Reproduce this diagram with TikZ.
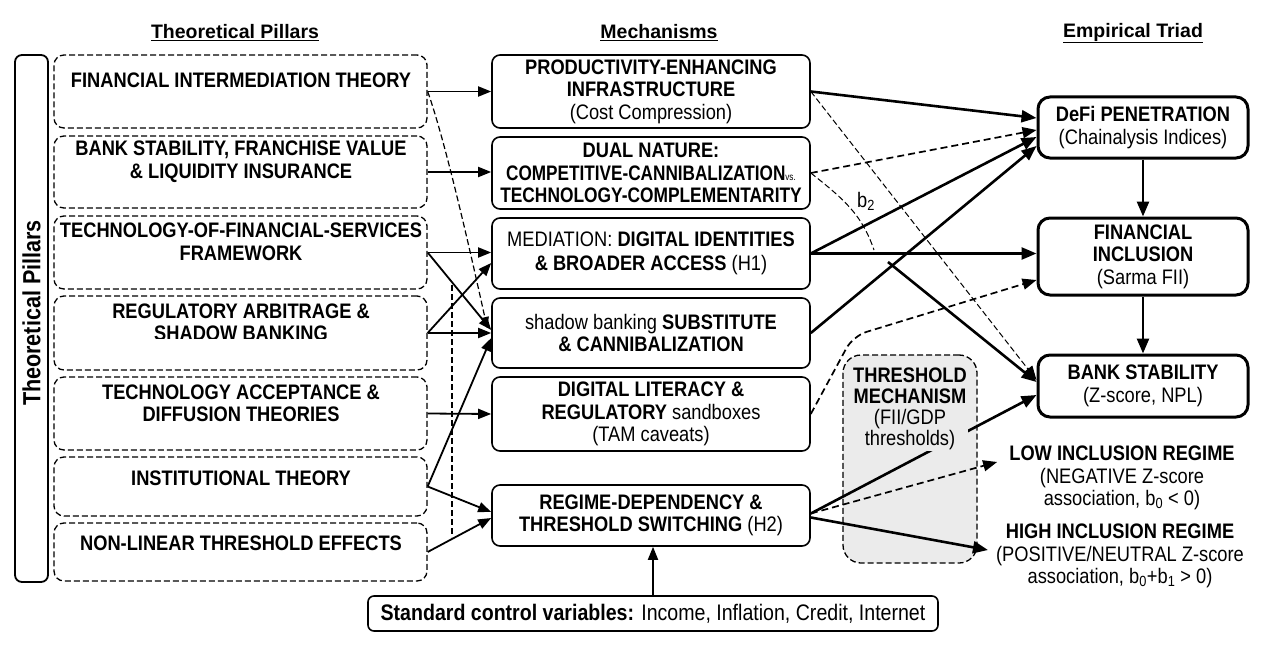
\documentclass[tikz,border=0pt]{standalone}
\usepackage{fontspec}
\setmainfont{Liberation Sans}
\newfontfamily\nar{Liberation Sans}[FakeStretch=0.87]
\usetikzlibrary{arrows.meta,calc}
\newcommand\boxfont{\nar\fontsize{21}{22.5}\selectfont}
\newcommand\titlefont{\fontsize{19.5}{22}\selectfont\bfseries}
\begin{document}
\begin{tikzpicture}[x=1pt,y=-1pt,
  every node/.style={font=\boxfont, inner sep=0pt},
  lbox/.style={draw, dash pattern=on 6pt off 3pt, line width=1.3pt, rounded corners=10pt, minimum width=373pt},
  mbox/.style={draw, line width=1.6pt, rounded corners=8pt, minimum width=318pt, align=center},
  rbox/.style={draw, line width=3pt, rounded corners=12pt, minimum width=210pt, align=center},
  ltxt/.style={align=center},
  la/.style={line width=1.8pt, -{Triangle[length=13pt,width=10pt]}},
  ra/.style={line width=2.6pt, -{Triangle[length=15pt,width=12pt]}},
  rad/.style={line width=1.7pt, dash pattern=on 7pt off 4pt, -{Triangle[length=14pt,width=11pt]}},
  rthin/.style={line width=1pt, dash pattern=on 6pt off 3pt, -{Triangle[length=14pt,width=11pt]}},
  ttl/.style={font=\titlefont},
]
\useasboundingbox (0,0) rectangle (1266,650);

% titles
\node[ttl] (t1) at (235,33) {\underline{Theoretical Pillars}};
\node[ttl] (t2) at (659,33) {\underline{Mechanisms}};
\node[ttl] (t3) at (1133,33) {\underline{Empirical Triad}};

% left bar
\node[draw, line width=1.8pt, rounded corners=7pt, minimum width=33pt, minimum height=527pt] (bar) at (31.5,318.5) {};
\node[rotate=90, font=\nar\fontsize{24.8}{26}\selectfont\bfseries] (bart) at (31.5,313) {Theoretical Pillars};

% left boxes
\node[lbox, minimum height=73pt] (L1) at (240.5,91.5) {};
\node[lbox, minimum height=72pt] (L2) at (240.5,172) {};
\node[lbox, minimum height=73pt] (L3) at (240.5,252.5) {};
\node[lbox, minimum height=74pt] (L4) at (240.5,333) {};
\node[lbox, minimum height=73pt] (L5) at (240.5,413.5) {};
\node[lbox, minimum height=59pt] (L6) at (240.5,486.5) {};
\node[lbox, minimum height=58pt] (L7) at (240.5,552) {};

\node[ltxt] (L1t) at (241,80) {\bfseries FINANCIAL INTERMEDIATION THEORY};
\node[ltxt] (L2t) at (241,161.5) {\bfseries BANK STABILITY, FRANCHISE VALUE\\\bfseries \& LIQUIDITY INSURANCE};
\node[ltxt] (L3t) at (241,242) {\bfseries TECHNOLOGY-OF-FINANCIAL-SERVICES\\\bfseries FRAMEWORK};
\begin{scope}
\clip (54,296) rectangle (427,338.5);
\node[ltxt] (L4t) at (241,322.5) {\bfseries REGULATORY ARBITRAGE \&\\\bfseries SHADOW BANKING};
\end{scope}
\node[ltxt] (L5t) at (241,403.5) {\bfseries TECHNOLOGY ACCEPTANCE \&\\\bfseries DIFFUSION THEORIES};
\node[ltxt] (L6t) at (241,478) {\bfseries INSTITUTIONAL THEORY};
\node[ltxt] (L7t) at (241,543) {\bfseries NON-LINEAR THRESHOLD EFFECTS};

% middle boxes
\node[mbox, minimum height=73pt] (M1) at (651,91.5) {\textbf{PRODUCTIVITY-ENHANCING}\\\textbf{INFRASTRUCTURE}\\(Cost Compression)};
\node[mbox, minimum height=72pt] (M2) at (651,173) {\textbf{DUAL NATURE:}\\\scalebox{0.94}[1]{\textbf{COMPETITIVE-CANNIBALIZATION}{\fontsize{10}{10}\selectfont vs.}}\\\scalebox{0.95}[1]{\textbf{TECHNOLOGY-COMPLEMENTARITY}}};
\node[mbox, minimum height=71pt] (M3) at (651,253.5) {MEDIATION: \textbf{DIGITAL IDENTITIES}\\[1.5pt]\textbf{\& BROADER ACCESS} (H1)};
\node[mbox, minimum height=70pt] (M4) at (651,333) {shadow banking \textbf{SUBSTITUTE}\\\textbf{\& CANNIBALIZATION}};
\node[mbox, minimum height=74pt] (M5) at (651,414) {\textbf{DIGITAL LITERACY \&}\\\textbf{REGULATORY} sandboxes\\(TAM caveats)};
\node[mbox, minimum height=61pt] (M6) at (651,515.5) {\textbf{REGIME-DEPENDENCY \&}\\\textbf{THRESHOLD SWITCHING} (H2)};

% control box
\node[draw, line width=1.6pt, rounded corners=6pt, minimum width=570pt, minimum height=35pt, font=\nar\fontsize{22.5}{24}\selectfont] (ctl) at (653,613.5) {\textbf{Standard control variables:} Income, Inflation, Credit, Internet};

% right boxes
\node[rbox, minimum height=61pt] (R1) at (1143,127.5) {\textbf{DeFi PENETRATION}\\(Chainalysis Indices)};
\node[rbox, minimum height=77pt] (R2) at (1143,256.5) {\textbf{FINANCIAL}\\\textbf{INCLUSION}\\(Sarma FII)};
\node[rbox, minimum height=62pt] (R3) at (1143,386) {\textbf{BANK STABILITY}\\(Z-score, NPL)};

% threshold box
\node[draw, fill=black!8, line width=1.3pt, dash pattern=on 6pt off 3pt, rounded corners=18pt, minimum width=134pt, minimum height=208pt] (thrbox) at (910,459) {};

% regime texts
\node[align=center] (low) at (1122,478) {\textbf{LOW INCLUSION REGIME}\\(NEGATIVE Z-score\\association, b\textsubscript{0} < 0)};
\node[align=center] (high) at (1120,556) {\textbf{HIGH INCLUSION REGIME}\\(POSITIVE/NEUTRAL Z-score\\association, b\textsubscript{0}+b\textsubscript{1} > 0)};

% left -> middle connectors
\draw[la] (L1.east) -- (M1.west);
\draw[la] (L2.east) -- (L2.east -| M2.west);
\draw[la] (L3.east) -- (L3.east -| M3.west);
\draw[la] (L3.east) -- ([yshift=3pt]M4.west);
\draw[la] (L4.east) -- (M4.west);
\draw[la] (L4.east) -- ([yshift=-9.5pt]M3.west);
\draw[la] (L5.east) -- (M5.west);
\draw[la] (L6.east) -- ([yshift=-5pt]M4.west);
\draw[la] (L6.east) -- ([yshift=3.5pt]M6.west);
\draw[la] (L7.east) -- ([yshift=-2.5pt]M6.west);
\draw[line width=1.2pt, dash pattern=on 6pt off 3pt, -{Triangle[length=11pt,width=8pt]}] (L1.east) .. controls (445,140) and (470,250) .. ([xshift=-4pt,yshift=5pt]M4.west);
\coordinate (v1) at (452,285);
\coordinate (v2) at (452,537);
\draw[line width=1.2pt, dash pattern=on 6pt off 3pt] (v1) -- (v2);

% middle -> right connectors
\draw[ra] (M1.east) -- ([yshift=9.5pt]R1.west);
\draw[rthin] (M1.east) -- ([yshift=6pt]R3.west);
\draw[rad] (M2.east) -- ([yshift=-2.5pt]R1.west);
\coordinate (b2e) at (874,250);
\draw[line width=1pt, dash pattern=on 6pt off 3pt] (M2.east) .. controls (845,200) and (862,215) .. (b2e);
\node[font=\nar\fontsize{21}{22}\selectfont] (b2) at (866,201) {b\textsubscript{2}};
\draw[ra] (M3.east) -- ([yshift=-9.5pt]R1.west);
\draw[ra] (M3.east) -- (M3.east -| R2.west);
\draw[ra] (M4.east) -- ([yshift=-18.5pt]R1.west);
\coordinate (m5bend) at (853,336);
\draw[rad, rounded corners=14pt] (M5.east) -- (m5bend) -- ([yshift=-23.5pt]R2.west);
\coordinate (b2s) at (888,262);
\draw[ra] (b2s) -- ([yshift=4pt]R3.west);
\draw[ra] ([yshift=2pt]M6.east) -- ([yshift=-9pt]R3.west);
\draw[rad] ([yshift=2pt]M6.east) -- ([xshift=-12pt,yshift=16pt]low.west);
\draw[ra] ([yshift=-2pt]M6.east) -- ([xshift=-8pt,yshift=6pt]high.west);

% vertical arrows
\draw[ra] (R1.south) -- (R2.north);
\draw[ra] (R2.south) -- (R3.north);
\draw[la] (ctl.north) -- (ctl.north |- M6.south);

% threshold text on top
\node[align=center, fill=black!8, inner sep=1pt, font=\nar\fontsize{21}{21}\selectfont] (thr) at (910,409) {\textbf{THRESHOLD}\\\textbf{MECHANISM}\\(FII/GDP\\thresholds)};
\end{tikzpicture}
\end{document}
